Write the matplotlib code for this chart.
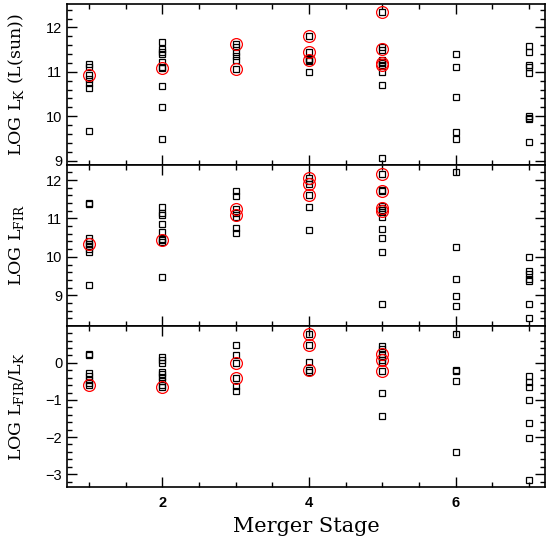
import matplotlib
matplotlib.use("Agg")
import matplotlib.pyplot as plt
from matplotlib.ticker import MultipleLocator

# ---- Data: LOG L_K (L(sun)) ----
lk_stage = [1]*7 + [2]*10 + [3]*6 + [4]*6 + [5]*10 + [6]*5 + [7]*9
lk_value = [11.17, 11.11, 10.93, 10.84, 10.74, 10.64, 9.66,
            11.68, 11.51, 11.45, 11.40, 11.23, 11.11, 11.08, 10.68, 10.20, 9.48,
            11.62, 11.55, 11.45, 11.35, 11.26, 11.06,
            11.80, 11.44, 11.28, 11.24, 11.26, 10.99,
            12.35, 11.55, 11.50, 11.26, 11.22, 11.19, 11.15, 11.00, 10.70, 9.06,
            11.40, 11.12, 10.43, 9.65, 9.49,
            11.59, 11.44, 11.15, 11.11, 10.98, 10.01, 9.97, 9.93, 9.42]
lk_red_stage = [1, 2, 3, 3, 4, 4, 4, 5, 5, 5, 5]
lk_red_value = [10.93, 11.08, 11.62, 11.06, 11.80, 11.44, 11.26, 12.35, 11.51, 11.21, 11.16]

# ---- Data: LOG L_FIR ----
fir_stage = [1]*9 + [2]*9 + [3]*7 + [4]*6 + [5]*12 + [6]*5 + [7]*7
fir_value = [11.41, 11.37, 10.50, 10.42, 10.33, 10.27, 10.21, 10.12, 9.26,
             11.29, 11.14, 11.09, 10.85, 10.64, 10.47, 10.44, 10.38, 9.48,
             11.72, 11.59, 11.24, 11.14, 11.05, 10.76, 10.62,
             12.06, 11.97, 11.89, 11.61, 11.30, 10.69,
             12.15, 11.74, 11.71, 11.33, 11.28, 11.22, 11.18, 11.05, 10.72, 10.49, 10.12, 8.78,
             12.20, 10.25, 9.43, 8.99, 8.71,
             9.99, 9.62, 9.56, 9.43, 9.38, 8.76, 8.40]
fir_red_stage = [1, 2, 3, 3, 4, 4, 4, 5, 5, 5, 5]
fir_red_value = [10.33, 10.44, 11.24, 11.10, 12.05, 11.90, 11.61, 12.15, 11.71, 11.28, 11.19]

# ---- Data: LOG L_FIR/L_K ----
ratio_stage = [1]*7 + [2]*9 + [3]*6 + [4]*5 + [5]*9 + [6]*5 + [7]*7
ratio_value = [0.25, 0.22, -0.27, -0.36, -0.45, -0.54, -0.60,
               0.16, 0.09, 0.00, -0.24, -0.31, -0.38, -0.49, -0.60, -0.65,
               0.48, 0.22, 0.00, -0.40, -0.63, -0.75,
               0.77, 0.47, 0.03, -0.20, -0.24,
               0.46, 0.37, 0.23, 0.16, 0.09, 0.03, -0.22, -0.81, -1.43,
               0.79, -0.18, -0.22, -0.50, -2.41,
               -0.36, -0.51, -0.66, -0.99, -1.61, -2.04, -3.16]
ratio_red_stage = [1, 2, 3, 3, 4, 4, 4, 5, 5, 5]
ratio_red_value = [-0.60, -0.65, 0.00, -0.40, 0.77, 0.47, -0.20, 0.23, 0.09, -0.22]

x_ticks = [2, 4, 6]
x_label = "Merger Stage"

fig = plt.figure(figsize=(5.5, 5.43), dpi=100)
L, W = 0.122, 0.869
ax1 = fig.add_axes([L, 0.696, W, 0.296])
ax2 = fig.add_axes([L, 0.399, W, 0.297], sharex=ax1)
ax3 = fig.add_axes([L, 0.1037, W, 0.2953], sharex=ax1)

panels = [
    (ax1, lk_stage, lk_value, lk_red_stage, lk_red_value, (8.9, 12.52),
     r"LOG L$_\mathregular{K}$ (L(sun))"),
    (ax2, fir_stage, fir_value, fir_red_stage, fir_red_value, (8.19, 12.39),
     r"LOG L$_\mathregular{FIR}$"),
    (ax3, ratio_stage, ratio_value, ratio_red_stage, ratio_red_value, (-3.34, 0.985),
     r"LOG L$_\mathregular{FIR}$/L$_\mathregular{K}$"),
]

for ax, xs, ys, rx, ry, ylim, lab in panels:
    ax.plot(xs, ys, ls="none", marker="s", ms=4.2, mfc="none", mec="black", mew=0.9)
    ax.plot(rx, ry, ls="none", marker="o", ms=8.5, mfc="none", mec="red", mew=0.9)
    ax.set_xlim(0.7, 7.22)
    ax.set_ylim(*ylim)
    ax.xaxis.set_major_locator(MultipleLocator(2))
    ax.xaxis.set_minor_locator(MultipleLocator(0.5))
    ax.yaxis.set_major_locator(MultipleLocator(1))
    ax.yaxis.set_minor_locator(MultipleLocator(0.2))
    ax.tick_params(which="both", direction="in", top=True, right=True, width=1.0)
    ax.tick_params(which="major", length=7)
    ax.tick_params(which="minor", length=3.5)
    for s in ax.spines.values():
        s.set_linewidth(1.2)
    for t in ax.get_yticklabels():
        t.set_fontfamily("Liberation Sans")
        t.set_fontsize(10.5)
    ax.set_ylabel(lab, fontfamily="DejaVu Serif", fontsize=12.5, labelpad=8)
    ax.yaxis.set_label_coords(-0.085, 0.5)

for ax in (ax1, ax2):
    ax.tick_params(labelbottom=False)

ax3.set_xticks(x_ticks)
ax3.set_xticklabels([str(v) for v in x_ticks], fontfamily="Liberation Sans",
                    fontsize=10.5, fontweight="bold")
ax3.tick_params(axis="x", pad=7)
ax3.set_xlabel(x_label, fontfamily="DejaVu Serif", fontsize=15, labelpad=5)

fig.savefig("out.png", dpi=100)
